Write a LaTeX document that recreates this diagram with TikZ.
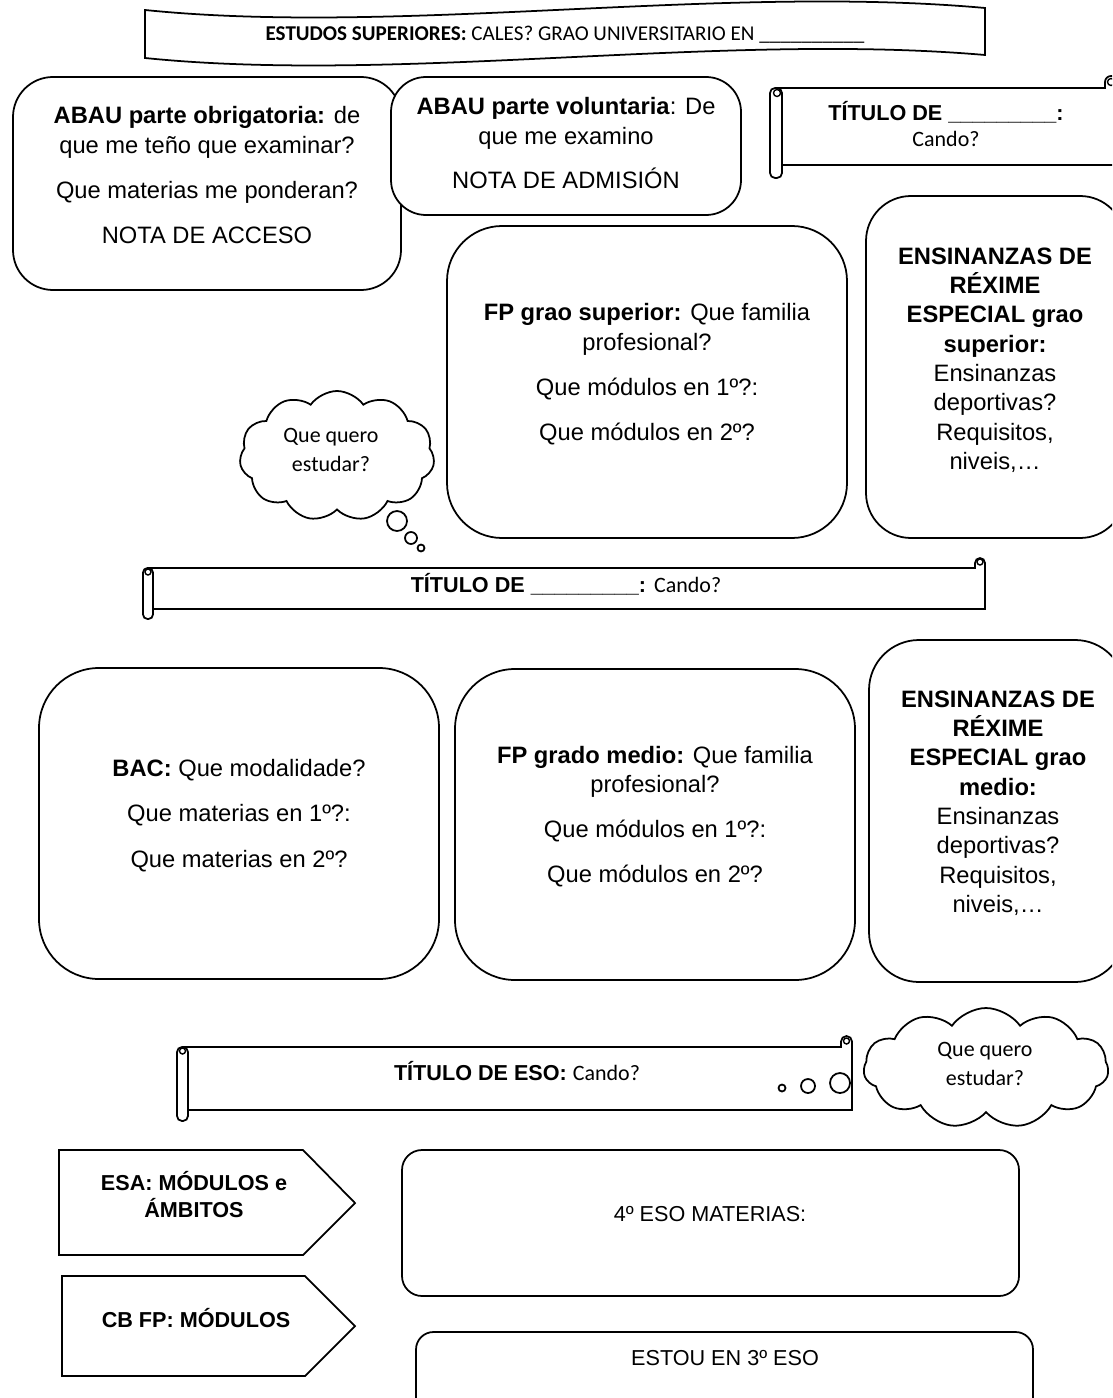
\documentclass[tikz,border=0pt]{standalone}
\usepackage{fontspec}
\setmainfont{Liberation Sans}
\newfontfamily\calibri{Carlito}
\usetikzlibrary{shapes.symbols}

\tikzset{
  roundbox/.style={draw=black,line width=1pt,fill=white},
  scrollline/.style={draw=black,line width=1pt,fill=white},
  armtext/.style={align=center,inner sep=0pt,font=\fontsize{13.5}{17}\selectfont},
  smalltext/.style={align=center,inner sep=0pt,font=\fontsize{12.3}{15.3}\selectfont},
  calitext/.style={align=center,inner sep=0pt,font=\calibri\fontsize{12.5}{16.5}\selectfont},
  thought/.style={cloud,draw=black,line width=1pt,fill=white,cloud puffs=11,cloud puff arc=110,cloud ignores aspect,inner sep=0pt},
}

\begin{document}
\begin{tikzpicture}[x=0.02cm,y=-0.02cm]
\useasboundingbox (0,0) rectangle (1112,1398);
\clip (0,0) rectangle (1112,1398);
%
% path: 
\draw[line width=1pt] (145,10) .. controls (400,36) and (720,-16) .. (985,8) -- (985,55) .. controls (720,32) and (400,84) .. (145,58) -- cycle;

\node[calitext,font=\calibri\fontsize{12}{14}\selectfont] (banner) at (565,35) {\textbf{ESTUDOS SUPERIORES:} CALES? GRAO UNIVERSITARIO EN \_\_\_\_\_\_\_\_\_\_};
%
% path: 
\draw[roundbox,rounded corners=0.8cm] (13,77) rectangle (401,290);

\node[armtext] (abauob) at (207,175) {\textbf{ABAU parte obrigatoria:} de\\que me teño que examinar?\\[8.5pt]Que materias me ponderan?\\[8.5pt]NOTA DE ACCESO};
%
% path: 
\draw[roundbox,rounded corners=0.7cm] (391,77) rectangle (741,215);

\node[armtext] (abauvol) at (566,143) {\textbf{ABAU parte voluntaria}: De\\que me examino\\[8.5pt]NOTA DE ADMISIÓN};
%
% path: 
\draw[scrollline] (782,165) -- (1117,165) -- (1117,82) arc[start angle=0,end angle=180,radius=0.12cm] -- (1105,88) -- (776,88);
\draw[line width=0.8pt] (1111,82) circle[radius=0.07cm];
\draw[scrollline,rounded corners=0.1cm] (770,88) rectangle (782,178);
\draw[line width=0.8pt] (777,93) circle[radius=0.07cm];

\node[smalltext] (titsup) at (946,124) {\textbf{TÍTULO DE \_\_\_\_\_\_\_\_\_:}\\[-1pt]{\calibri\fontsize{12.5}{15}\selectfont Cando?}};
%
% path: 
\draw[roundbox,rounded corners=1.1cm] (447,226) rectangle (847,538);

\node[armtext] (fpsup) at (647,374) {\textbf{FP grao superior:} Que familia\\profesional?\\[8.5pt]Que módulos en 1º?:\\[8.5pt]Que módulos en 2º?};
%
% path: 
\draw[roundbox,rounded corners=0.9cm] (866,196) rectangle (1125,538);

\node[armtext,font=\fontsize{13.5}{16.7}\selectfont] (ensup) at (995,360) {\textbf{ENSINANZAS DE}\\\textbf{RÉXIME}\\\textbf{ESPECIAL grao}\\\textbf{superior:}\\Ensinanzas\\deportivas?\\Requisitos,\\niveis,…};
%
% path: 
\node[thought,minimum width=3.9cm,minimum height=2.6cm] (cloudA) at (337,456) {};
\draw[line width=1pt] (397,521) circle[radius=0.2cm];
\draw[line width=1pt] (411,538) circle[radius=0.12cm];
\draw[line width=1pt] (421,548) circle[radius=0.07cm];

\node[calitext] (quero1) at (331,449.5) {Que quero\\estudar?};
%
% path: 
\draw[scrollline] (153,609) -- (985,609) -- (985,563) arc[start angle=0,end angle=180,radius=0.1cm] -- (975,568) -- (148,568);
\draw[line width=0.8pt] (980,562) circle[radius=0.06cm];
\draw[scrollline,rounded corners=0.09cm] (143,568) rectangle (153,619);
\draw[line width=0.8pt] (148,572) circle[radius=0.06cm];

\node[smalltext] (titfp) at (566,584) {\textbf{TÍTULO DE \_\_\_\_\_\_\_\_\_:} {\calibri\fontsize{12.5}{15}\selectfont Cando?}};
%
% path: 
\draw[roundbox,rounded corners=1.2cm] (39,668) rectangle (439,979);

\node[armtext] (bac) at (239,815.5) {\textbf{BAC:} Que modalidade?\\[9pt]Que materias en 1º?:\\[9pt]Que materias en 2º?};
%
% path: 
\draw[roundbox,rounded corners=1.2cm] (455,669) rectangle (855,980);

\node[armtext] (fpmed) at (655,816.5) {\textbf{FP grado medio:} Que familia\\profesional?\\[8.5pt]Que módulos en 1º?:\\[8.5pt]Que módulos en 2º?};
%
% path: 
\draw[roundbox,rounded corners=1cm] (869,640) rectangle (1125,982);

\node[armtext,font=\fontsize{13.5}{16.7}\selectfont] (ensmed) at (998,803) {\textbf{ENSINANZAS DE}\\\textbf{RÉXIME}\\\textbf{ESPECIAL grao}\\\textbf{medio:}\\Ensinanzas\\deportivas?\\Requisitos,\\niveis,…};
%
% path: 
\draw[scrollline] (188,1110) -- (852,1110) -- (852,1041.5) arc[start angle=0,end angle=180,radius=0.11cm] -- (841,1047) -- (182,1047);
\draw[line width=0.8pt] (846.5,1041) circle[radius=0.06cm];
\draw[scrollline,rounded corners=0.1cm] (177,1047) rectangle (188,1121);
\draw[line width=0.8pt] (182.5,1051) circle[radius=0.06cm];
\draw[line width=1pt] (782,1088) circle[radius=0.07cm];
\draw[line width=1pt] (808,1086) circle[radius=0.14cm];
\draw[line width=1pt] (840,1083) circle[radius=0.2cm];

\node[smalltext] (titeso) at (517,1071) {\textbf{TÍTULO DE ESO:} {\calibri\fontsize{12.5}{15}\selectfont Cando?}};
%
% path: 
\node[thought,minimum width=4.9cm,minimum height=2.4cm] (cloudB) at (986,1068) {};

\node[calitext] (quero2) at (985,1064) {Que quero\\estudar?};
%
% path: 
\draw[line width=1pt] (59,1150) -- (303,1150) -- (355,1203) -- (303,1255) -- (59,1255) -- cycle;

\node[smalltext,font=\bfseries\fontsize{12.3}{15.3}\selectfont] (esa) at (194,1194.5) {ESA: MÓDULOS e\\ÁMBITOS};
%
% path: 
\draw[line width=1pt] (62,1276) -- (305,1276) -- (355,1326) -- (305,1376) -- (62,1376) -- cycle;

\node[smalltext,font=\bfseries\fontsize{12.3}{15.3}\selectfont] (cbfp) at (196,1318) {CB FP: MÓDULOS};
%
% path: 
\draw[roundbox,rounded corners=0.4cm] (402,1150) rectangle (1019,1296);

\node[smalltext] (eso4) at (710,1214) {4º ESO MATERIAS:};
%
% path: 
\draw[roundbox,rounded corners=0.35cm] (416,1332) rectangle (1033,1420);

\node[smalltext] (eso3) at (725,1358) {ESTOU EN 3º ESO};

\end{tikzpicture}
\end{document}
